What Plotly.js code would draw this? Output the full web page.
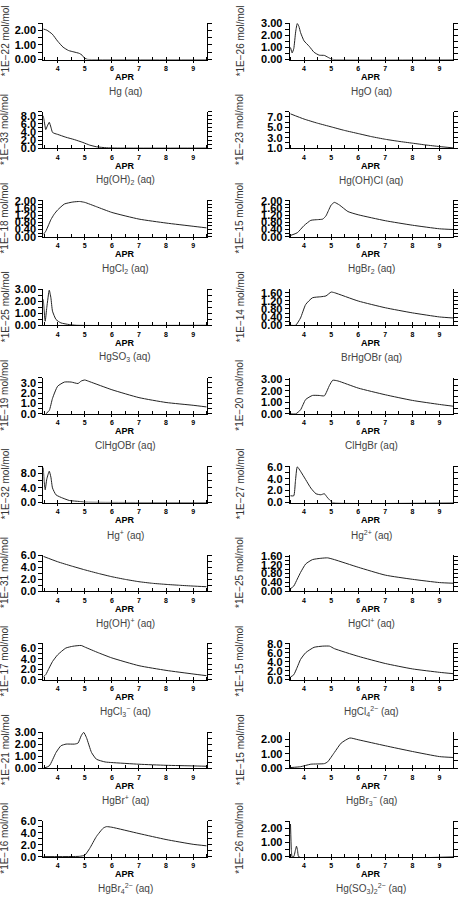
<!DOCTYPE html>
<html>
<head>
<meta charset="utf-8">
<script src="https://cdn.plot.ly/plotly-3.0.1.min.js"></script>
<style>
  html, body { margin: 0; padding: 0; background: #fff; }
  #chart { width: 467px; height: 899px; }
</style>
</head>
<body>
<div id="chart"></div>
<script>
// Mixing ratios of dissolved mercury species against APR.
// Each species: APR sample points and mixing ratio (in units of the exponent shown on its axis).

const species = [
  'Hg (aq)', 'HgO (aq)',
  'Hg(OH)<sub>2</sub> (aq)', 'Hg(OH)Cl (aq)',
  'HgCl<sub>2</sub> (aq)', 'HgBr<sub>2</sub> (aq)',
  'HgSO<sub>3</sub> (aq)', 'BrHgOBr (aq)',
  'ClHgOBr (aq)', 'ClHgBr (aq)',
  'Hg<sup>+</sup> (aq)', 'Hg<sup>2+</sup> (aq)',
  'Hg(OH)<sup>+</sup> (aq)', 'HgCl<sup>+</sup> (aq)',
  'HgCl<sub>3</sub><sup>−</sup> (aq)', 'HgCl<sub>4</sub><sup>2−</sup> (aq)',
  'HgBr<sup>+</sup> (aq)', 'HgBr<sub>3</sub><sup>−</sup> (aq)',
  'HgBr<sub>4</sub><sup>2−</sup> (aq)', 'Hg(SO<sub>3</sub>)<sub>2</sub><sup>2−</sup> (aq)'
];

const exponents = [-22, -26, -33, -23, -18, -15, -25, -14, -19, -20,
                   -32, -27, -31, -25, -17, -15, -21, -15, -16, -26];

const aprHg      = [3.47, 3.6, 3.8, 4.0, 4.2, 4.4, 4.6, 4.8, 4.9, 5.0, 5.1, 5.3, 9.5];
const mrHg       = [2.1, 2.02, 1.75, 1.26, 0.85, 0.62, 0.52, 0.42, 0.3, 0.08, 0.01, 0, 0];

const aprHgO     = [3.5, 3.56, 3.62, 3.69, 3.75, 3.81, 3.87, 4.0, 4.19, 4.37, 4.56, 4.75, 4.87, 5.0, 5.1, 9.5];
const mrHgO      = [1.0, 0.55, 0.9, 2.3, 3.0, 2.75, 2.25, 1.55, 1.1, 0.6, 0.36, 0.34, 0.2, 0.05, 0, 0];

const aprHgOH2   = [3.47, 3.52, 3.56, 3.62, 3.69, 3.75, 3.81, 3.9, 4.0, 4.3, 4.62, 4.93, 5.18, 5.43, 5.8, 6.2, 9.5];
const mrHgOH2    = [8.0, 6.0, 4.6, 5.5, 6.4, 5.2, 3.9, 3.6, 3.4, 2.7, 2.1, 1.4, 0.75, 0.33, 0.08, 0, 0];

const aprHgOHCl  = [3.5, 4.0, 4.5, 5.0, 5.5, 6.0, 6.5, 7.0, 7.5, 8.0, 8.5, 9.0, 9.5];
const mrHgOHCl   = [7.6, 6.6, 5.8, 5.1, 4.4, 3.8, 3.2, 2.7, 2.3, 1.95, 1.6, 1.3, 1.05];

const aprHgCl2   = [3.47, 3.56, 3.65, 3.75, 3.87, 4.0, 4.25, 4.56, 4.81, 5.0, 5.43, 6.0, 7.0, 8.0, 9.0, 9.5];
const mrHgCl2    = [0.13, 0.3, 0.6, 0.95, 1.25, 1.49, 1.82, 1.93, 1.96, 1.91, 1.67, 1.35, 0.98, 0.76, 0.58, 0.49];

const aprHgBr2   = [3.5, 3.75, 4.0, 4.25, 4.5, 4.69, 4.81, 4.9, 5.0, 5.12, 5.31, 5.62, 6.0, 7.0, 8.0, 9.0, 9.5];
const mrHgBr2    = [0.07, 0.22, 0.62, 0.91, 0.95, 0.98, 1.16, 1.45, 1.76, 1.91, 1.76, 1.4, 1.22, 0.89, 0.64, 0.44, 0.4];

const aprHgSO3   = [3.47, 3.54, 3.6, 3.69, 3.75, 3.81, 3.94, 4.12, 4.43, 4.7, 9.5];
const mrHgSO3    = [2.17, 0.34, 1.5, 2.93, 2.3, 1.18, 0.48, 0.2, 0.06, 0, 0];

const aprBrHgOBr = [3.5, 3.69, 3.87, 4.06, 4.31, 4.62, 4.81, 5.0, 5.12, 6.0, 7.0, 8.0, 9.0, 9.5];
const mrBrHgOBr  = [0, 0, 0.36, 1.02, 1.35, 1.4, 1.44, 1.63, 1.6, 1.19, 0.86, 0.61, 0.41, 0.36];

const aprClHgOBr = [3.56, 3.69, 3.81, 4.0, 4.25, 4.5, 4.75, 4.87, 5.0, 5.19, 6.0, 7.0, 8.0, 9.0, 9.5];
const mrClHgOBr  = [0, 0.33, 1.5, 2.67, 3.07, 3.07, 2.93, 3.17, 3.27, 3.1, 2.33, 1.57, 1.1, 0.83, 0.67];

const aprClHgBr  = [3.5, 3.69, 3.87, 4.06, 4.31, 4.56, 4.75, 4.94, 5.06, 5.25, 6.0, 7.0, 8.0, 9.0, 9.5];
const mrClHgBr   = [0, 0, 0.35, 1.25, 1.6, 1.6, 1.57, 2.48, 2.92, 2.86, 2.24, 1.66, 1.17, 0.82, 0.67];

const aprHgP     = [3.47, 3.5, 3.54, 3.6, 3.69, 3.75, 3.81, 3.94, 4.19, 4.43, 4.8, 5.0, 9.5];
const mrHgP      = [9.6, 6.0, 3.5, 6.5, 8.6, 7.0, 4.0, 2.1, 1.2, 0.56, 0.28, 0.1, 0];

const aprHg2P    = [3.5, 3.62, 3.68, 3.75, 3.87, 4.06, 4.25, 4.44, 4.62, 4.75, 4.85, 4.94, 5.06, 9.5];
const mrHg2P     = [1.13, 1.13, 3.5, 6.0, 5.25, 3.84, 2.43, 1.47, 1.3, 1.47, 0.9, 0.45, 0, 0];

const aprHgOHP   = [3.47, 4.0, 4.5, 5.0, 5.5, 6.0, 6.5, 7.0, 7.5, 8.0, 8.5, 9.0, 9.5];
const mrHgOHP    = [5.8, 4.9, 4.2, 3.55, 2.95, 2.4, 1.95, 1.57, 1.3, 1.12, 0.97, 0.84, 0.73];

const aprHgClP   = [3.5, 3.62, 3.75, 3.87, 4.06, 4.31, 4.62, 4.87, 5.12, 6.0, 7.0, 8.0, 9.0, 9.5];
const mrHgClP    = [0.11, 0.23, 0.55, 0.85, 1.24, 1.44, 1.5, 1.52, 1.44, 1.09, 0.73, 0.54, 0.39, 0.36];

const aprHgCl3M  = [3.47, 3.56, 3.68, 3.81, 4.0, 4.3, 4.56, 4.87, 5.0, 5.5, 6.0, 7.0, 8.0, 9.0, 9.5];
const mrHgCl3M   = [0.52, 0.97, 2.2, 3.5, 4.8, 6.1, 6.45, 6.6, 6.3, 5.2, 4.2, 2.7, 1.8, 1.1, 0.77];

const aprHgCl4M  = [3.5, 3.62, 3.75, 3.87, 4.06, 4.37, 4.69, 4.94, 5.12, 6.0, 7.0, 8.0, 9.0, 9.5];
const mrHgCl4M   = [0.6, 1.1, 2.8, 4.5, 6.0, 7.2, 7.46, 7.46, 6.9, 5.2, 3.6, 2.4, 1.64, 1.34];

const aprHgBrP   = [3.47, 3.69, 3.94, 4.12, 4.31, 4.62, 4.75, 4.87, 4.96, 5.06, 5.25, 5.43, 5.75, 6.0, 7.0, 8.0, 9.0, 9.5];
const mrHgBrP    = [0, 0.2, 1.32, 1.88, 2.02, 2.02, 2.1, 2.72, 3.0, 2.58, 1.32, 0.76, 0.53, 0.48, 0.34, 0.25, 0.2, 0.17];

const aprHgBr3M  = [3.5, 3.87, 4.25, 4.75, 4.87, 5.12, 5.37, 5.69, 6.0, 7.0, 8.0, 9.0, 9.5];
const mrHgBr3M   = [0.05, 0.11, 0.28, 0.32, 0.44, 1.08, 1.72, 2.07, 1.95, 1.54, 1.15, 0.8, 0.74];

const aprHgBr4M  = [3.47, 4.5, 4.81, 5.0, 5.18, 5.43, 5.68, 5.8, 6.0, 7.0, 8.0, 9.0, 9.5];
const mrHgBr4M   = [0.05, 0.06, 0.1, 0.28, 1.4, 3.4, 4.8, 5.05, 4.95, 3.9, 2.9, 2.1, 1.85];

const aprHgSO32  = [3.5, 3.53, 3.56, 3.62, 3.69, 3.72, 3.76, 3.81, 9.5];
const mrHgSO32   = [2.3, 0.5, 0, 0.02, 0.55, 0.75, 0.45, 0, 0];

const aprSeries = [aprHg, aprHgO, aprHgOH2, aprHgOHCl, aprHgCl2, aprHgBr2, aprHgSO3, aprBrHgOBr,
                   aprClHgOBr, aprClHgBr, aprHgP, aprHg2P, aprHgOHP, aprHgClP, aprHgCl3M, aprHgCl4M,
                   aprHgBrP, aprHgBr3M, aprHgBr4M, aprHgSO32];
const mrSeries  = [mrHg, mrHgO, mrHgOH2, mrHgOHCl, mrHgCl2, mrHgBr2, mrHgSO3, mrBrHgOBr,
                   mrClHgOBr, mrClHgBr, mrHgP, mrHg2P, mrHgOHP, mrHgClP, mrHgCl3M, mrHgCl4M,
                   mrHgBrP, mrHgBr3M, mrHgBr4M, mrHgSO32];

// y-axis scale for each panel: [min, max, step, decimals]
const yScales = [
  [0, 2.5, 1, 2], [0, 3.02, 1, 2],
  [0, 9.0, 2, 1], [1, 8.0, 2, 1],
  [0, 2.02, 0.4, 2], [0, 2.02, 0.4, 2],
  [0, 3.03, 1, 2], [0, 1.78, 0.4, 2],
  [0, 3.5, 1, 1], [0, 3.15, 1, 2],
  [0, 10.0, 4, 1], [0, 6.1, 2, 1],
  [0, 6.06, 2, 1], [0, 1.66, 0.4, 2],
  [0, 7.0, 2, 1], [0, 8.07, 2, 1],
  [0, 3.03, 1, 2], [0, 2.48, 1, 2],
  [0, 6.06, 2, 1], [0, 2.54, 1, 2]
];

const aprTicks = [4, 5, 6, 7, 8, 9];

const W = 467, H = 899;
const colLeft = [[43.3, 206.7], [289.7, 453.0]];
const titleX = [5, 240];
const rowBottom0 = 59.5, rowPitch = 88.6, panelH = 36.3;
const FONT = 'Liberation Sans, Arial, sans-serif';

const data = [];
const layout = {
  width: W, height: H,
  margin: {l: 0, r: 0, t: 0, b: 0},
  paper_bgcolor: '#fff', plot_bgcolor: '#fff',
  showlegend: false,
  font: {family: FONT, color: '#000'},
  annotations: []
};

species.forEach((name, i) => {
  const col = i % 2, row = Math.floor(i / 2);
  const bottom = rowBottom0 + rowPitch * row;
  const top = bottom - panelH;
  const [px0, px1] = colLeft[col];
  const sfx = i === 0 ? '' : String(i + 1);
  const [ymin, ymax, step, dec] = yScales[i];

  data.push({
    type: 'scatter', mode: 'lines',
    x: aprSeries[i], y: mrSeries[i],
    xaxis: 'x' + sfx, yaxis: 'y' + sfx,
    line: {color: '#222', width: 1, shape: 'spline', smoothing: 0.5},
    hoverinfo: 'skip'
  });

  layout['xaxis' + sfx] = {
    domain: [px0 / W, px1 / W],
    anchor: 'y' + sfx,
    range: [3.47, 9.5],
    tickvals: aprTicks,
    ticks: 'outside', ticklen: 2, tickwidth: 1, tickcolor: '#000',
    minor: {ticks: 'inside', tick0: 3.5, dtick: 0.5, ticklen: 3, tickcolor: '#000'},
    showline: true, linecolor: '#000', linewidth: 1,
    showgrid: false, zeroline: false,
    tickfont: {family: FONT, size: 7, weight: 'bold', color: '#000'},
    fixedrange: true
  };

  layout['yaxis' + sfx] = {
    domain: [1 - bottom / H, 1 - top / H],
    anchor: 'x' + sfx,
    range: [ymin, ymax],
    tick0: ymin, dtick: step,
    tickformat: '.' + dec + 'f',
    ticks: 'outside', ticklen: 4, tickwidth: 1, tickcolor: '#000',
    minor: {ticks: 'outside', tick0: ymin, dtick: step / 2, ticklen: 4, tickcolor: '#000'},
    showline: true, mirror: 'ticks', linecolor: '#000', linewidth: 1,
    showgrid: false, zeroline: false,
    tickfont: {family: FONT, size: 11, weight: 'bold', color: '#000'},
    fixedrange: true
  };

  const cx = (px0 + px1) / 2;
  layout.annotations.push(
    { // exponent / unit label
      xref: 'paper', yref: 'paper',
      x: titleX[col] / W, y: 1 - (bottom - panelH / 2) / H,
      xanchor: 'center', yanchor: 'middle',
      text: '*1E' + (exponents[i] < 0 ? '−' + (-exponents[i]) : exponents[i]) + ' mol/mol',
      textangle: -90, showarrow: false,
      font: {family: FONT, size: 10, color: '#333'}
    },
    { // x-axis title
      xref: 'paper', yref: 'paper',
      x: cx / W, y: 1 - (bottom + 17.5) / H,
      xanchor: 'center', yanchor: 'middle',
      text: 'APR', showarrow: false,
      font: {family: FONT, size: 9, weight: 'bold', color: '#000'}
    },
    { // species name
      xref: 'paper', yref: 'paper',
      x: cx / W, y: 1 - (bottom + 32) / H,
      xanchor: 'center', yanchor: 'middle',
      text: name, showarrow: false,
      font: {family: FONT, size: 10, color: '#444'}
    }
  );
});

Plotly.newPlot('chart', data, layout, {staticPlot: true, displayModeBar: false});
</script>
</body>
</html>
